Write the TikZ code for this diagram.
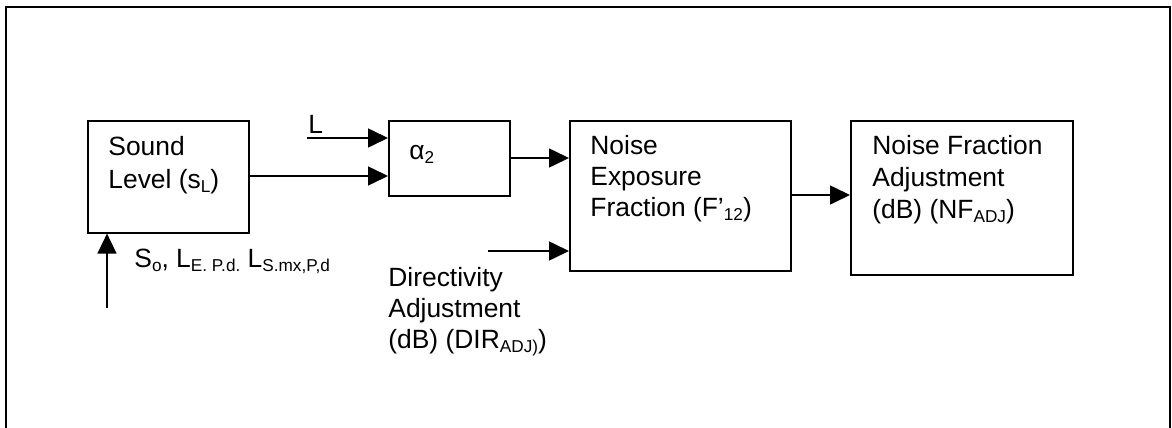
\documentclass[tikz,border=0pt]{standalone}
\usepackage{fontspec}
\setmainfont{Liberation Sans}
\usetikzlibrary{arrows.meta}
\newcommand\dn[1]{\raisebox{-0.35ex}{\fontsize{8.6}{9}\selectfont #1}}
\begin{document}
\begin{tikzpicture}[x=0.5pt,y=-0.5pt,
  box/.style={draw,line width=0.8pt,minimum width=0pt,minimum height=0pt,inner sep=0pt},
  lbl/.style={anchor=base west,inner sep=0pt,font=\fontsize{13.2}{16.5}\selectfont},
  flow/.style={line width=0.8pt,-{Triangle[length=10pt,width=9.5pt]}}]
\useasboundingbox (0,0) rectangle (1172,428);
% outer frame, open at the bottom
\draw[line width=1pt] (6,440) -- (6,7) -- (1170,7) -- (1170,440);

% blocks
\node[box,minimum width=161*0.5pt,minimum height=112*0.5pt,anchor=north west] (snd) at (87,120) {};
\node[box,minimum width=121*0.5pt,minimum height=75*0.5pt,anchor=north west] (alp) at (388,120) {};
\node[box,minimum width=221*0.5pt,minimum height=150*0.5pt,anchor=north west] (nef) at (569,120) {};
\node[box,minimum width=222*0.5pt,minimum height=154*0.5pt,anchor=north west] (nfa) at (850,120) {};

% block texts
\node[lbl] (t1a) at (108,155) {Sound};
\node[lbl] (t1b) at (108,188) {Level (s\dn{L})};
\node[lbl] (t2) at (409,159) {α\dn{2}};
\node[lbl] (t3a) at (590,154) {Noise};
\node[lbl] (t3b) at (590,185) {Exposure};
\node[lbl] (t3c) at (590,216) {Fraction (F’\dn{12})};
\node[lbl] (t4a) at (872,154) {Noise Fraction};
\node[lbl] (t4b) at (872,186) {Adjustment};
\node[lbl] (t4c) at (872,218) {(dB) (NF\dn{ADJ})};

% free inputs and labels
\node[lbl] (lL) at (308,133) {L};
\node[lbl] (dA) at (388,286) {Directivity};
\node[lbl] (dB) at (388,317) {Adjustment};
\node[lbl] (dC) at (388,348) {(dB) (DIR\dn{ADJ)})};
\node[lbl] (so) at (134,267) {S\dn{o}, L\dn{E. P.d.} L\dn{S.mx,P,d}};
\coordinate (inL) at (307,138);
\coordinate (inD) at (488,251);
\coordinate (inS) at (107,308);

% connectors
\draw[flow] (inL) -- (inL -| alp.west);
\draw[flow] (snd.east |- 0,176) -- (alp.west |- 0,176);
\draw[flow] (alp.east |- 0,158) -- (nef.west |- 0,158);
\draw[flow] (inD) -- (inD -| nef.west);
\draw[flow] (nef.east |- 0,195) -- (nfa.west |- 0,195);
\draw[flow] (inS) -- (inS |- snd.south);
\end{tikzpicture}
\end{document}
